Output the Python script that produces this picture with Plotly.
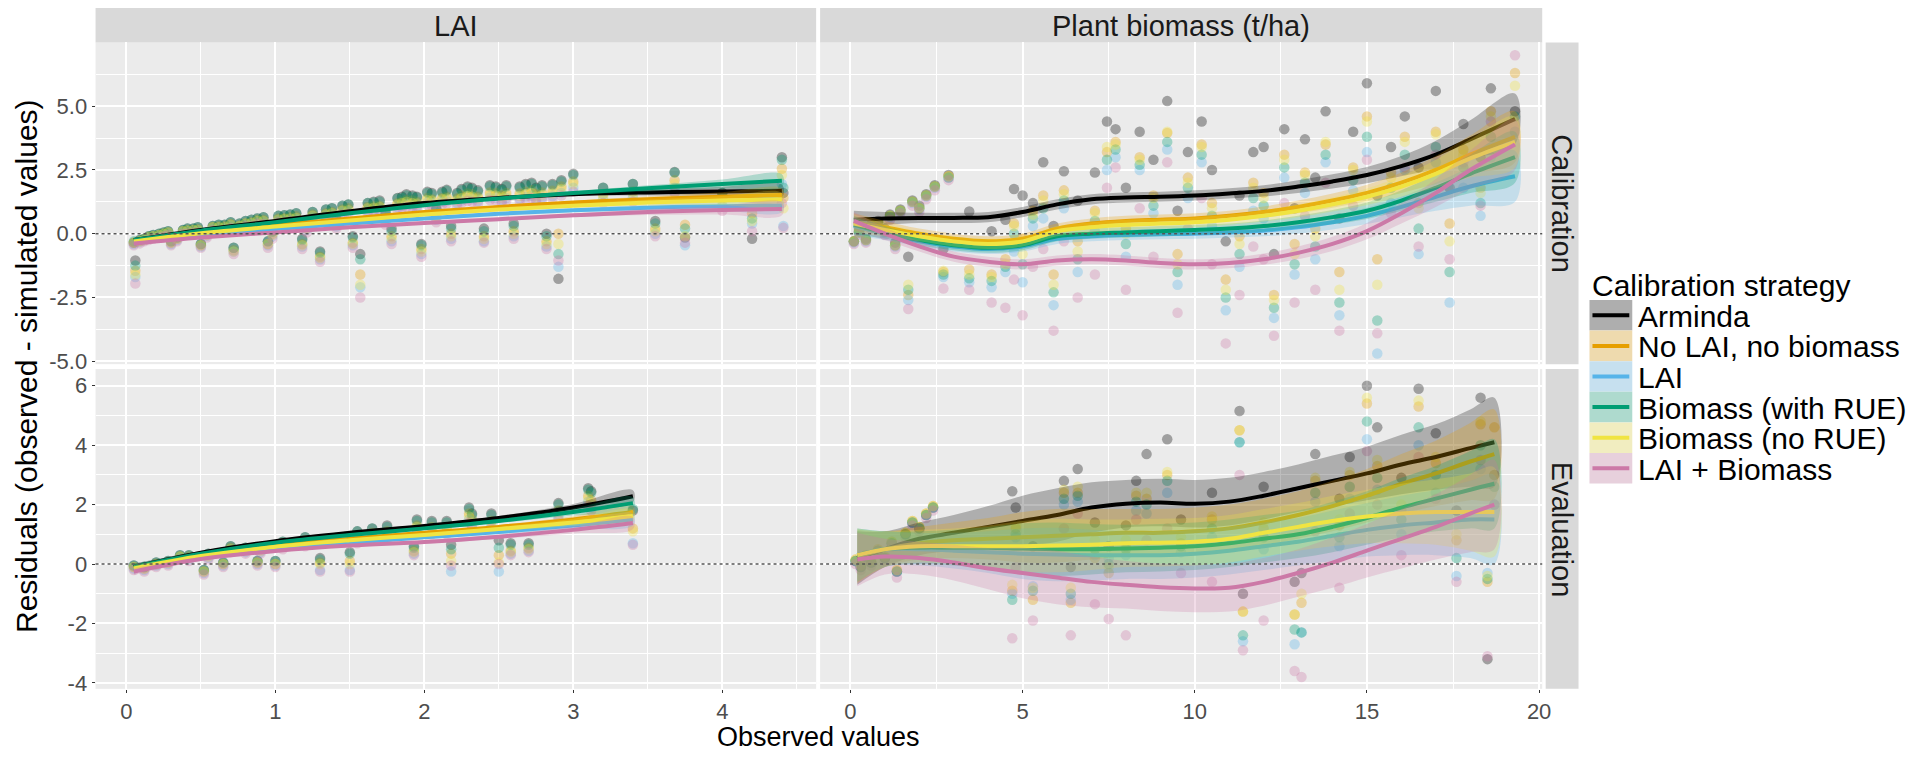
import plotly.graph_objects as go
from plotly.subplots import make_subplots

W, H = 1912, 763

STRATEGIES = ["Arminda", "No LAI, no biomass", "LAI", "Biomass (with RUE)",
              "Biomass (no RUE)", "LAI + Biomass"]
COLORS = ["#000000", "#E69F00", "#56B4E9", "#009E73", "#F0E442", "#CC79A7"]
COLUMN_LABELS = ["LAI", "Plant biomass (t/ha)"]
ROW_LABELS = ["Calibration", "Evaluation"]
X_TITLE = "Observed values"
Y_TITLE = "Residuals (observed - simulated values)"
LEGEND_TITLE = "Calibration strategy"

TOP_TICKS = [-5, -2.5, 0, 2.5, 5]
TOP_TICK_TEXT = ["-5.0", "-2.5", "0.0", "2.5", "5.0"]
BOT_TICKS = [-4, -2, 0, 2, 4, 6]
BOT_TICK_TEXT = ["-4", "-2", "0", "2", "4", "6"]

# ---------------- LAI, calibration: observed points ----------------
LC_X = [0.05, 0.06, 0.12, 0.18, 0.25, 0.30, 0.38, 0.45, 0.50, 0.58,
        0.66, 0.72, 0.80, 0.88, 0.95, 1.02, 1.10, 1.18, 1.25, 1.30,
        1.38, 1.45, 1.52, 1.57, 1.62, 1.70, 1.78, 1.85, 1.92, 1.98,
        2.05, 2.12, 2.18, 2.25, 2.32, 2.40, 2.48, 2.55, 2.60, 2.68,
        2.75, 2.82, 2.90, 2.92, 3.00, 3.20, 3.40, 3.55, 3.68, 3.75,
        4.00, 4.20, 4.40, 4.41,
        0.09, 0.15, 0.22, 0.28, 0.34, 0.41, 0.48, 0.54, 0.62, 0.70,
        0.76, 0.84, 0.92, 0.98, 1.06, 1.14, 1.21, 1.34, 1.41, 1.49,
        1.66, 1.74, 1.82, 1.88, 1.95, 2.02, 2.08, 2.15, 2.22, 2.29,
        2.36, 2.44, 2.52, 2.64, 2.72, 2.79, 2.86]
LC_ARM = [-0.35, -1.05, -0.20, -0.05, 0.05, -0.30, 0.15, 0.20, -0.40, 0.30,
          0.35, -0.55, 0.50, 0.60, -0.30, 0.70, 0.75, -0.20, 0.85, -0.70,
          1.00, 1.10, -0.10, -0.80, 1.20, 1.30, 0.20, 1.45, 1.50, -0.40,
          1.60, 1.65, 0.30, 1.75, 1.80, 0.20, 1.85, 1.90, 0.40, 1.95,
          1.80, 0.00, -1.77, 2.10, 2.35, 1.80, 1.95, 0.50, 2.42, -0.15,
          1.60, -0.20, 3.00, 1.60,
          -0.25, -0.10, 0.00, 0.10, -0.15, 0.20, 0.25, 0.05, 0.35, 0.45,
          0.40, 0.55, 0.65, 0.10, 0.72, 0.80, 0.40, 0.95, 0.60, 1.15,
          1.25, 0.85, 1.40, 1.55, 1.45, 1.65, 1.00, 1.72, 1.60, 1.85,
          1.70, 1.90, 1.75, 1.85, 2.00, 1.90, 1.95]
LC_NOLB = [-0.35, -1.45, -0.20, -0.10, 0.00, -0.35, 0.10, 0.15, -0.45, 0.25,
           0.30, -0.65, 0.40, 0.55, -0.40, 0.60, 0.65, -0.40, 0.75, -0.90,
           0.85, 0.95, -0.35, -1.60, 1.05, 1.10, -0.10, 1.25, 1.30, -0.60,
           1.35, 1.40, 0.00, 1.50, 1.55, -0.10, 1.60, 1.60, 0.10, 1.65,
           1.55, -0.30, 0.00, 1.85, 2.05, 1.55, 1.65, 0.20, 2.10, 0.35,
           1.40, 0.80, 2.55, 1.40,
           -0.28, -0.12, -0.05, 0.05, -0.20, 0.15, 0.18, -0.02, 0.28, 0.38,
           0.32, 0.45, 0.55, 0.00, 0.62, 0.68, 0.25, 0.80, 0.40, 1.00,
           1.08, 0.60, 1.20, 1.32, 1.25, 1.40, 0.70, 1.45, 1.38, 1.58,
           1.45, 1.62, 1.50, 1.58, 1.70, 1.62, 1.68]
LC_LAI = [-0.40, -1.70, -0.25, -0.15, -0.05, -0.40, 0.05, 0.10, -0.50, 0.20,
          0.20, -0.70, 0.35, 0.45, -0.45, 0.50, 0.55, -0.50, 0.65, -1.00,
          0.75, 0.85, -0.45, -2.10, 0.90, 0.95, -0.30, 1.10, 1.10, -0.80,
          1.20, 1.25, -0.20, 1.30, 1.35, -0.30, 1.40, 1.40, -0.10, 1.45,
          1.35, -0.50, -1.30, 1.60, 1.80, 1.35, 1.40, 0.00, 1.80, -0.45,
          1.10, 0.40, 1.95, 0.30,
          -0.32, -0.18, -0.10, 0.00, -0.25, 0.08, 0.12, -0.08, 0.20, 0.30,
          0.25, 0.38, 0.45, -0.10, 0.52, 0.58, 0.15, 0.70, 0.28, 0.88,
          0.92, 0.45, 1.05, 1.15, 1.08, 1.22, 0.55, 1.28, 1.20, 1.38,
          1.28, 1.42, 1.30, 1.38, 1.50, 1.42, 1.48]
LC_BRUE = [-0.30, -1.25, -0.20, -0.05, 0.05, -0.30, 0.15, 0.20, -0.40, 0.30,
           0.35, -0.55, 0.50, 0.60, -0.30, 0.70, 0.75, -0.25, 0.85, -0.75,
           1.00, 1.10, -0.15, -1.00, 1.20, 1.25, 0.10, 1.40, 1.45, -0.45,
           1.55, 1.60, 0.20, 1.70, 1.75, 0.10, 1.80, 1.85, 0.30, 1.90,
           1.75, -0.10, -0.80, 2.05, 2.30, 1.80, 1.95, 0.40, 2.40, 0.20,
           1.60, 0.60, 2.90, 1.80,
           -0.25, -0.10, 0.00, 0.10, -0.15, 0.20, 0.25, 0.05, 0.35, 0.45,
           0.40, 0.55, 0.65, 0.08, 0.72, 0.80, 0.38, 0.95, 0.55, 1.15,
           1.22, 0.80, 1.38, 1.50, 1.42, 1.60, 0.95, 1.68, 1.55, 1.80,
           1.65, 1.85, 1.70, 1.80, 1.95, 1.85, 1.90]
LC_BNORUE = [-0.35, -1.60, -0.25, -0.10, 0.00, -0.35, 0.10, 0.15, -0.45, 0.25,
             0.25, -0.70, 0.40, 0.50, -0.40, 0.55, 0.60, -0.45, 0.70, -0.95,
             0.80, 0.90, -0.40, -2.00, 1.00, 1.05, -0.20, 1.20, 1.20, -0.70,
             1.30, 1.35, -0.10, 1.40, 1.45, -0.20, 1.50, 1.50, 0.00, 1.55,
             1.45, -0.40, -0.40, 1.75, 1.95, 1.45, 1.55, 0.10, 1.95, -0.10,
             1.30, 0.50, 2.30, 1.00,
             -0.30, -0.15, -0.05, 0.05, -0.20, 0.12, 0.15, -0.05, 0.25, 0.35,
             0.30, 0.42, 0.50, -0.05, 0.58, 0.62, 0.20, 0.75, 0.35, 0.92,
             1.02, 0.55, 1.15, 1.25, 1.18, 1.32, 0.65, 1.38, 1.30, 1.48,
             1.38, 1.52, 1.42, 1.48, 1.60, 1.52, 1.58]
LC_LB = [-0.45, -1.95, -0.30, -0.20, -0.10, -0.45, 0.00, 0.05, -0.55, 0.15,
         0.15, -0.80, 0.30, 0.40, -0.55, 0.45, 0.50, -0.60, 0.55, -1.10,
         0.65, 0.75, -0.55, -2.50, 0.80, 0.85, -0.40, 1.00, 1.00, -0.90,
         1.10, 1.15, -0.30, 1.20, 1.25, -0.35, 1.30, 1.30, -0.20, 1.35,
         1.25, -0.60, -1.05, 1.50, 1.65, 1.20, 1.25, -0.10, 1.60, -0.35,
         0.90, 0.10, 1.20, 0.23,
         -0.38, -0.25, -0.15, -0.05, -0.30, 0.02, 0.05, -0.15, 0.12, 0.22,
         0.18, 0.30, 0.38, -0.20, 0.45, 0.50, 0.05, 0.60, 0.20, 0.78,
         0.82, 0.35, 0.95, 1.05, 0.98, 1.12, 0.45, 1.18, 1.10, 1.28,
         1.18, 1.32, 1.22, 1.28, 1.40, 1.32, 1.38]

# ---------------- LAI, evaluation: observed points ----------------
LE_X = [0.05, 0.12, 0.20, 0.28, 0.36, 0.42, 0.52, 0.55, 0.65, 0.70,
        0.80, 0.88, 0.90, 1.00, 1.05, 1.20, 1.30, 1.50, 1.55, 1.65,
        1.75, 1.93, 1.95, 2.05, 2.15, 2.18, 2.30, 2.32, 2.45, 2.50,
        2.58, 2.70, 2.90, 3.10, 3.12, 3.40]
LE_ARM = [-0.05, -0.10, 0.05, 0.10, 0.30, 0.30, -0.20, 0.35, 0.05, 0.60,
          0.55, 0.10, 0.55, 0.10, 0.75, 0.90, 0.20, 0.40, 1.10, 1.20,
          1.30, 0.60, 1.50, 1.45, 1.45, 0.65, 1.90, 1.70, 1.70, 0.80,
          0.70, 0.70, 2.05, 2.55, 2.45, 1.80]
LE_NOLB = [-0.10, -0.15, 0.00, 0.05, 0.25, 0.25, -0.25, 0.30, 0.00, 0.55,
           0.50, 0.05, 0.50, 0.00, 0.70, 0.80, 0.05, 0.10, 0.95, 1.05,
           1.10, 0.45, 1.30, 1.25, 1.25, 0.35, 1.70, 1.50, 1.45, 0.30,
           0.45, 0.55, 1.80, 2.30, 2.15, 1.20]
LE_LAI = [-0.15, -0.20, -0.05, 0.00, 0.20, 0.15, -0.30, 0.20, -0.05, 0.45,
          0.40, 0.00, 0.40, -0.05, 0.60, 0.70, -0.20, -0.20, 0.85, 0.90,
          0.95, 0.35, 1.15, 1.10, 1.05, -0.25, 1.50, 1.30, 1.30, -0.25,
          0.35, 0.45, 1.60, 2.10, 1.90, 0.70]
LE_BRUE = [-0.05, -0.10, 0.05, 0.10, 0.30, 0.30, -0.20, 0.35, 0.05, 0.60,
           0.55, 0.10, 0.55, 0.10, 0.75, 0.90, 0.15, 0.35, 1.10, 1.20,
           1.25, 0.55, 1.45, 1.40, 1.40, 0.50, 1.85, 1.65, 1.65, 0.55,
           0.65, 0.65, 2.00, 2.50, 2.40, 1.85]
LE_BNORUE = [-0.10, -0.15, 0.00, 0.05, 0.25, 0.20, -0.25, 0.25, 0.00, 0.50,
             0.45, 0.05, 0.45, 0.00, 0.65, 0.75, 0.00, 0.00, 0.90, 1.00,
             1.05, 0.40, 1.25, 1.20, 1.20, 0.10, 1.60, 1.40, 1.40, 0.05,
             0.40, 0.50, 1.70, 2.20, 2.05, 1.10]
LE_LB = [-0.20, -0.25, -0.10, -0.05, 0.15, 0.10, -0.35, 0.15, -0.10, 0.40,
         0.35, -0.05, 0.35, -0.10, 0.50, 0.60, -0.25, -0.25, 0.70, 0.80,
         0.85, 0.30, 1.05, 1.00, 1.00, -0.05, 1.40, 1.20, 1.20, 0.00,
         0.30, 0.40, 1.50, 1.95, 1.80, 0.65]

# ---------------- Biomass, calibration: observed points ----------------
BC_X = [0.10, 0.25, 0.45, 0.60, 0.80, 1.00, 1.15, 1.30, 1.45, 1.68,
        1.80, 2.00, 2.20, 2.45, 2.70, 2.85, 3.45, 4.10, 4.50, 4.75,
        5.00, 5.30, 5.60, 5.90, 6.20, 6.60, 7.10, 7.45, 7.70, 8.00,
        8.40, 9.20, 8.80, 9.50, 9.80, 10.20, 10.50, 10.90, 11.30, 11.70,
        12.00, 12.30, 12.60, 12.90, 13.20, 13.50, 13.80, 14.20, 14.60, 15.00,
        15.30, 15.70, 16.10, 16.50, 17.00, 17.40, 17.80, 18.30, 18.60, 19.30]
BC_ARM = [-0.30, 0.10, -0.20, 0.35, 0.50, 0.20, 0.75, -0.35, 0.95, -0.90,
          1.30, 1.10, 1.55, 1.90, -0.60, 2.30, 0.87, 0.10, 0.55, 1.75,
          1.50, 1.20, 2.80, 0.30, 2.45, 1.30, 2.40, 4.40, 4.10, 1.80,
          4.00, 5.20, 2.90, 0.90, 3.20, 4.40, 2.50, -0.30, 1.50, 3.20,
          3.40, -0.80, 4.10, 1.00, 3.70, 2.20, 4.80, 0.60, 4.00, 5.90,
          1.50, 3.40, 4.60, 2.60, 5.60, 1.80, 4.30, 3.00, 5.70, 4.80]
BC_NOLB = [-0.30, 0.05, -0.25, 0.30, 0.45, 0.10, 0.70, -0.45, 0.90, -2.40,
           1.25, 1.00, 1.50, 1.85, -1.50, 2.25, -1.40, -1.60, -1.00, 0.40,
           -0.20, 0.90, 1.50, -1.60, 1.70, -0.30, 0.90, 3.20, 3.60, 0.20,
           3.00, 3.95, 1.50, -0.80, 2.20, 3.50, 1.20, -1.80, -0.10, 2.00,
           1.60, -2.40, 3.10, -0.40, 2.40, 0.20, 3.50, -1.50, 2.60, 4.60,
           -1.00, 2.40, 3.80, 1.20, 4.00, 0.40, 3.30, 1.80, 4.80, 6.30]
BC_LAI = [-0.35, 0.00, -0.30, 0.25, 0.40, 0.05, 0.65, -0.50, 0.85, -2.60,
          1.20, 0.95, 1.45, 1.80, -1.70, 2.20, -1.90, -2.10, -1.50, -0.70,
          -1.90, 0.30, 0.60, -2.80, 1.00, -1.50, 0.10, 2.50, 3.00, -0.90,
          2.50, 3.30, 0.80, -2.00, 1.40, 2.80, 0.30, -3.00, -1.30, 0.90,
          0.60, -3.30, 2.20, -1.60, 1.60, -1.00, 2.80, -3.20, 1.70, 3.20,
          -4.70, 1.20, 2.50, -0.80, 2.80, -2.70, 1.80, 0.70, 3.00, 4.00]
BC_BRUE = [-0.30, 0.05, -0.25, 0.30, 0.45, 0.10, 0.70, -0.45, 0.90, -2.20,
           1.25, 1.00, 1.50, 1.85, -1.60, 2.20, -1.75, -1.85, -1.30, 0.00,
           -1.20, 0.60, 1.00, -2.30, 1.30, -1.00, 0.50, 2.90, 3.30, -0.40,
           2.70, 3.60, 1.10, -1.50, 1.80, 3.10, 0.70, -2.50, -0.80, 1.40,
           1.10, -2.90, 2.60, -1.20, 2.00, -0.50, 3.10, -2.70, 2.10, 3.80,
           -3.40, 1.80, 3.10, 0.20, 3.40, -1.50, 2.60, 1.20, 3.80, 4.60]
BC_BNORUE = [-0.30, 0.05, -0.25, 0.30, 0.45, 0.10, 0.70, -0.45, 0.90, -2.00,
             1.25, 1.00, 1.50, 1.85, -1.45, 2.25, -1.60, -1.70, -1.20, 0.30,
             -0.80, 0.75, 1.30, -2.00, 1.55, -0.70, 0.80, 3.40, 3.50, 0.00,
             2.90, 4.00, 1.40, -1.20, 2.00, 3.40, 1.00, -2.20, -0.40, 1.80,
             1.40, -2.60, 2.90, -0.80, 2.30, -0.10, 3.60, -2.20, 2.50, 4.40,
             -2.00, 2.20, 3.60, 1.00, 3.90, -0.30, 3.10, 1.60, 4.60, 5.80]
BC_LB = [-0.40, -0.05, -0.35, 0.20, 0.30, -0.05, 0.55, -0.60, 0.80, -2.95,
         1.10, 0.85, 1.35, 1.70, -2.15, 2.10, -2.20, -2.70, -2.90, -1.80,
         -3.20, -1.30, -0.60, -3.80, -0.30, -2.50, -1.60, 1.80, 2.60, -2.20,
         1.00, 2.80, -0.90, -3.10, 0.20, 1.40, -1.20, -4.30, -2.40, -0.50,
         -1.00, -4.00, 1.20, -2.70, 0.70, -2.20, 2.00, -3.80, 1.10, 2.90,
         -3.90, 0.80, 2.60, -0.50, 3.10, -1.00, 2.80, 1.10, 4.40, 7.00]

# ---------------- Biomass, evaluation: observed points ----------------
BE_X = [0.15, 0.30, 0.45, 0.60, 0.80, 1.00, 1.20, 1.35, 1.60, 1.80,
        2.00, 2.20, 2.40, 4.70, 4.80, 5.30, 6.20, 6.40, 6.60, 7.10,
        7.50, 8.00, 8.30, 8.60, 9.20, 9.60, 10.50, 11.30, 11.40, 12.00,
        12.90, 13.10, 13.50, 14.20, 14.50, 15.00, 15.30, 16.00, 16.50, 17.00,
        17.60, 18.30, 18.50, 18.70]
BE_ARM = [0.10, -0.10, 0.25, 0.05, 0.45, 0.20, 0.70, -0.25, 1.00, 1.40,
          1.20, 1.65, 1.90, 2.45, 1.90, 0.60, 2.80, -0.10, 3.20, 1.40,
          0.60, 1.30, 2.80, 3.70, 4.20, 1.50, 2.40, 5.15, -1.00, 2.60,
          -0.60, -0.30, 3.70, 2.20, 3.60, 6.00, 4.60, 2.90, 5.90, 4.40,
          1.80, 5.60, -3.20, 3.00]
BE_NOLB = [0.15, -0.05, 0.30, 0.10, 0.50, 0.25, 0.75, -0.20, 1.05, 1.45,
           1.25, 1.70, 1.95, -0.90, 1.20, -1.20, 2.40, -1.30, 2.40, 0.20,
           -0.30, 0.60, 2.30, 2.20, 3.00, 0.70, 1.50, 4.50, -1.60, 1.20,
           -1.70, -1.30, 2.80, 1.30, 3.00, 5.40, 3.30, 1.80, 5.30, 3.40,
           0.80, 4.70, -0.60, 4.60]
BE_LAI = [0.10, -0.10, 0.25, 0.05, 0.45, 0.20, 0.70, -0.25, 1.00, 1.40,
          1.20, 1.65, 1.90, -1.00, 0.90, -0.75, 2.00, -1.20, 2.10, 0.30,
          0.20, 0.30, 1.80, 1.70, 2.40, 0.40, 0.90, 4.10, -2.60, 0.50,
          -2.70, -2.30, 2.10, 0.60, 2.20, 4.20, 2.50, 1.00, 4.00, 2.40,
          -0.40, 3.20, -0.30, 2.00]
BE_BRUE = [0.10, -0.10, 0.25, 0.05, 0.45, 0.20, 0.70, -0.25, 1.00, 1.40,
           1.20, 1.65, 1.90, -1.20, 1.00, -0.90, 2.20, -1.00, 2.30, 0.50,
           0.00, 0.50, 2.10, 2.00, 2.80, 0.60, 1.20, 4.10, -2.40, 0.90,
           -2.20, -2.30, 2.40, 0.90, 2.60, 4.80, 2.90, 1.50, 4.60, 3.00,
           0.20, 4.00, -0.50, 2.60]
BE_BNORUE = [0.15, -0.05, 0.30, 0.10, 0.50, 0.25, 0.75, -0.20, 1.05, 1.45,
             1.25, 1.70, 1.95, -0.70, 1.30, -0.80, 2.50, -0.80, 2.60, 0.80,
             -0.10, 0.80, 2.40, 2.40, 3.10, 0.90, 1.60, 4.50, -1.60, 1.40,
             -1.70, -1.00, 2.90, 1.50, 3.10, 5.60, 3.50, 2.00, 5.50, 3.60,
             1.00, 4.80, -0.40, 3.00]
BE_LB = [0.00, -0.20, 0.15, -0.05, 0.35, 0.10, 0.60, -0.45, 0.90, 1.30,
         1.10, 1.55, 1.80, -2.50, -0.10, -1.90, 1.20, -2.40, 1.70, -1.35,
         -1.85, -2.40, 1.50, 0.80, 1.20, -0.30, -0.60, 3.00, -2.90, -1.90,
         -3.60, -3.80, 1.10, -0.80, 1.70, 3.80, 2.00, 0.30, 3.60, 2.20,
         -0.60, 3.50, -3.10, 2.00]

# ---------------- smoothed fits (loess) and their standard errors ----------------
LCF_X = [0.05, 0.5, 1.0, 1.5, 2.0, 2.5, 3.0, 3.5, 4.0, 4.4]
LCF_ARM = [-0.25, 0.15, 0.50, 0.88, 1.20, 1.40, 1.55, 1.62, 1.66, 1.68]
LCF_NOLB = [-0.28, 0.05, 0.33, 0.60, 0.85, 1.05, 1.22, 1.35, 1.45, 1.52]
LCF_LAI = [-0.32, -0.05, 0.18, 0.40, 0.60, 0.78, 0.92, 1.02, 1.08, 1.10]
LCF_BRUE = [-0.25, 0.12, 0.45, 0.80, 1.12, 1.38, 1.60, 1.78, 1.95, 2.08]
LCF_BNORUE = [-0.30, 0.02, 0.28, 0.52, 0.75, 0.95, 1.10, 1.22, 1.30, 1.35]
LCF_LB = [-0.38, -0.15, 0.05, 0.25, 0.42, 0.57, 0.72, 0.85, 0.93, 0.97]
LCF_SE = [0.06, 0.04, 0.04, 0.04, 0.04, 0.05, 0.07, 0.12, 0.18, 0.25]

LEF_X = [0.05, 0.5, 1.0, 1.5, 2.0, 2.5, 3.0, 3.4]
LEF_ARM = [-0.10, 0.38, 0.77, 1.05, 1.28, 1.55, 1.90, 2.28]
LEF_NOLB = [-0.15, 0.30, 0.62, 0.85, 1.05, 1.25, 1.50, 1.75]
LEF_LAI = [-0.20, 0.22, 0.50, 0.72, 0.90, 1.08, 1.30, 1.50]
LEF_BRUE = [-0.10, 0.35, 0.72, 0.98, 1.20, 1.45, 1.75, 2.05]
LEF_BNORUE = [-0.15, 0.27, 0.58, 0.80, 0.98, 1.18, 1.40, 1.62]
LEF_LB = [-0.25, 0.17, 0.44, 0.62, 0.74, 0.92, 1.15, 1.38]
LEF_SE = [0.12, 0.06, 0.05, 0.05, 0.06, 0.07, 0.12, 0.20]

BCF_X = [0.1, 1, 2, 3, 4, 5, 6, 7, 8, 9, 10, 11, 12, 13, 14, 15, 16, 17, 18, 19.3]
BCF_ARM = [0.55, 0.60, 0.62, 0.62, 0.65, 0.85, 1.15, 1.35, 1.42, 1.45,
           1.50, 1.58, 1.68, 1.85, 2.05, 2.30, 2.65, 3.10, 3.70, 4.50]
BCF_NOLB = [0.45, 0.25, 0.00, -0.20, -0.30, -0.20, 0.20, 0.40, 0.50, 0.55,
            0.60, 0.70, 0.85, 1.05, 1.30, 1.60, 2.00, 2.50, 3.10, 3.80]
BCF_LAI = [0.30, 0.00, -0.30, -0.50, -0.60, -0.50, -0.20, -0.10, -0.05, -0.02,
           0.00, 0.05, 0.12, 0.25, 0.45, 0.70, 1.05, 1.45, 1.85, 2.25]
BCF_BRUE = [0.35, 0.05, -0.25, -0.45, -0.55, -0.45, -0.10, 0.00, 0.05, 0.10,
            0.15, 0.20, 0.30, 0.45, 0.65, 0.90, 1.30, 1.80, 2.35, 3.00]
BCF_BNORUE = [0.40, 0.15, -0.10, -0.30, -0.40, -0.30, 0.10, 0.25, 0.35, 0.40,
              0.45, 0.55, 0.70, 0.90, 1.15, 1.45, 1.85, 2.35, 2.95, 3.60]
BCF_LB = [0.50, 0.00, -0.50, -0.90, -1.10, -1.20, -1.05, -1.00, -1.05, -1.15,
          -1.20, -1.15, -1.00, -0.75, -0.40, 0.10, 0.80, 1.60, 2.50, 3.50]
BCF_SE = [0.35, 0.25, 0.20, 0.20, 0.20, 0.20, 0.20, 0.20, 0.20, 0.20,
          0.20, 0.20, 0.22, 0.25, 0.28, 0.32, 0.40, 0.55, 0.75, 1.00]

BEF_X = [0.2, 1, 2, 3, 4, 5, 6, 7, 8, 9, 10, 11, 12, 13, 14, 15, 16, 17, 18, 18.7]
BEF_ARM = [0.20, 0.50, 0.85, 1.05, 1.25, 1.45, 1.65, 1.90, 2.03, 2.07,
           2.03, 2.10, 2.30, 2.55, 2.80, 3.05, 3.35, 3.60, 3.90, 4.10]
BEF_NOLB = [0.25, 0.50, 0.70, 0.80, 0.85, 0.90, 0.95, 1.00, 1.05, 1.05,
            1.10, 1.20, 1.40, 1.65, 1.95, 2.30, 2.70, 3.05, 3.45, 3.70]
BEF_LAI = [0.30, 0.50, 0.50, 0.45, 0.40, 0.35, 0.32, 0.30, 0.30, 0.30,
           0.35, 0.45, 0.60, 0.75, 0.95, 1.15, 1.30, 1.40, 1.50, 1.50]
BEF_BRUE = [0.30, 0.50, 0.55, 0.55, 0.55, 0.52, 0.50, 0.50, 0.52, 0.55,
            0.60, 0.70, 0.85, 1.00, 1.25, 1.55, 1.90, 2.20, 2.50, 2.70]
BEF_BNORUE = [0.30, 0.50, 0.60, 0.60, 0.60, 0.60, 0.62, 0.65, 0.70, 0.72,
              0.75, 0.85, 1.05, 1.25, 1.45, 1.60, 1.70, 1.75, 1.75, 1.75]
BEF_LB = [0.15, 0.25, 0.20, 0.05, -0.15, -0.30, -0.45, -0.60, -0.70, -0.78,
          -0.82, -0.80, -0.60, -0.30, 0.05, 0.45, 0.85, 1.25, 1.70, 2.00]
BEF_SE = [0.90, 0.60, 0.55, 0.60, 0.70, 0.85, 0.90, 0.85, 0.80, 0.80,
          0.80, 0.80, 0.80, 0.80, 0.85, 0.90, 1.00, 1.10, 1.30, 1.50]

# ---------------------------------------------------------------------------
FONT = "Liberation Sans, Arial, Helvetica, sans-serif"


def rgba(h, a):
    h = h.lstrip("#")
    return "rgba(%d,%d,%d,%.3f)" % (int(h[0:2], 16), int(h[2:4], 16), int(h[4:6], 16), a)


panels = [
    (1, 1, LC_X, [LC_ARM, LC_NOLB, LC_LAI, LC_BRUE, LC_BNORUE, LC_LB],
     LCF_X, [LCF_ARM, LCF_NOLB, LCF_LAI, LCF_BRUE, LCF_BNORUE, LCF_LB], LCF_SE),
    (1, 2, BC_X, [BC_ARM, BC_NOLB, BC_LAI, BC_BRUE, BC_BNORUE, BC_LB],
     BCF_X, [BCF_ARM, BCF_NOLB, BCF_LAI, BCF_BRUE, BCF_BNORUE, BCF_LB], BCF_SE),
    (2, 1, LE_X, [LE_ARM, LE_NOLB, LE_LAI, LE_BRUE, LE_BNORUE, LE_LB],
     LEF_X, [LEF_ARM, LEF_NOLB, LEF_LAI, LEF_BRUE, LEF_BNORUE, LEF_LB], LEF_SE),
    (2, 2, BE_X, [BE_ARM, BE_NOLB, BE_LAI, BE_BRUE, BE_BNORUE, BE_LB],
     BEF_X, [BEF_ARM, BEF_NOLB, BEF_LAI, BEF_BRUE, BEF_BNORUE, BEF_LB], BEF_SE),
]

fig = make_subplots(rows=2, cols=2, shared_xaxes=True, shared_yaxes=True,
                    horizontal_spacing=0.002, vertical_spacing=0.006)

for (r, c, px, pys, fx, fys, se) in panels:
    # points layer
    for i, ys in enumerate(pys):
        fig.add_trace(go.Scatter(
            x=px, y=ys, mode="markers", showlegend=False, hoverinfo="skip",
            marker=dict(size=10.5, color=rgba(COLORS[i], 0.32), line=dict(width=0))),
            row=r, col=c)
    # smooth layer: ribbon + line per strategy
    for i, fy in enumerate(fys):
        upper = [f + s for f, s in zip(fy, se)]
        lower = [f - s for f, s in zip(fy, se)]
        fig.add_trace(go.Scatter(
            x=list(fx) + list(fx)[::-1], y=upper + lower[::-1],
            mode="lines", fill="toself", fillcolor=rgba(COLORS[i], 0.26),
            line=dict(width=0, shape="spline", smoothing=1.0),
            showlegend=False, hoverinfo="skip"), row=r, col=c)
        fig.add_trace(go.Scatter(
            x=fx, y=fy, mode="lines", name=STRATEGIES[i], showlegend=False,
            line=dict(color=COLORS[i], width=4, shape="spline", smoothing=1.0),
            hoverinfo="skip"), row=r, col=c)

# ----- geometry (pixels in a 1912 x 763 canvas) -----
LEFT_X = (96, 820)
RIGHT_X = (824, 1549.5)
TOP_Y = (43, 369)
BOT_Y = (374, 698)


def px_x(a):
    return a / W


def px_y(a):
    return 1 - a / H


axis_common = dict(showgrid=True, gridcolor="white", gridwidth=1.6, zeroline=False,
                   showline=False, ticks="outside", ticklen=3, tickwidth=1.3,
                   tickcolor="#333333",
                   tickfont=dict(family=FONT, size=22, color="#4D4D4D"))

x_left = dict(axis_common, range=[-0.207, 4.63], tickmode="linear", tick0=0, dtick=1,
              minor=dict(dtick=0.5, tick0=0, showgrid=True, gridcolor="white",
                         gridwidth=0.7, ticks=""),
              domain=[px_x(LEFT_X[0]), px_x(LEFT_X[1])])
x_right = dict(axis_common, range=[-0.88, 20.09], tickmode="linear", tick0=0, dtick=5,
               minor=dict(dtick=2.5, tick0=0, showgrid=True, gridcolor="white",
                          gridwidth=0.7, ticks=""),
               domain=[px_x(RIGHT_X[0]), px_x(RIGHT_X[1])])
y_top = dict(axis_common, range=[-5.115, 7.5], tickmode="array", tickvals=TOP_TICKS,
             ticktext=TOP_TICK_TEXT,
             minor=dict(tickvals=[-3.75, -1.25, 1.25, 3.75, 6.25], showgrid=True,
                        gridcolor="white", gridwidth=0.7, ticks=""),
             domain=[px_y(TOP_Y[1]), px_y(TOP_Y[0])])
y_bot = dict(axis_common, range=[-4.2, 6.56], tickmode="array", tickvals=BOT_TICKS,
             ticktext=BOT_TICK_TEXT,
             minor=dict(tickvals=[-3, -1, 1, 3, 5], showgrid=True,
                        gridcolor="white", gridwidth=0.7, ticks=""),
             domain=[px_y(BOT_Y[1]), px_y(BOT_Y[0])])

fig.update_layout(
    xaxis=dict(x_left, showticklabels=False, ticks=""),
    xaxis2=dict(x_right, showticklabels=False, ticks=""),
    xaxis3=x_left,
    xaxis4=x_right,
    yaxis=y_top,
    yaxis2=dict(y_top, showticklabels=False, ticks=""),
    yaxis3=y_bot,
    yaxis4=dict(y_bot, showticklabels=False, ticks=""),
)

shapes = []
annotations = []

# dotted zero reference lines
for xa, ya in [("x", "y"), ("x2", "y2"), ("x3", "y3"), ("x4", "y4")]:
    shapes.append(dict(type="line", xref=xa + " domain", yref=ya, x0=0, x1=1, y0=0, y1=0,
                       line=dict(color="#555555", width=1.5, dash="dot"), layer="above"))

STRIP_FILL = "#D9D9D9"
# column strips
for (x0, x1), lab in zip([LEFT_X, RIGHT_X], COLUMN_LABELS):
    shapes.append(dict(type="rect", xref="paper", yref="paper", x0=px_x(x0), x1=px_x(x1),
                       y0=px_y(43), y1=px_y(8), fillcolor=STRIP_FILL, line=dict(width=0),
                       layer="below"))
    annotations.append(dict(text=lab, xref="paper", yref="paper", x=px_x((x0 + x1) / 2),
                            y=px_y(26), showarrow=False, xanchor="center", yanchor="middle",
                            font=dict(family=FONT, size=29, color="#1A1A1A")))
# row strips
for (y0, y1), lab in zip([TOP_Y, BOT_Y], ROW_LABELS):
    shapes.append(dict(type="rect", xref="paper", yref="paper", x0=px_x(1553), x1=px_x(1586),
                       y0=px_y(y1), y1=px_y(y0), fillcolor=STRIP_FILL, line=dict(width=0),
                       layer="below"))
    annotations.append(dict(text=lab, xref="paper", yref="paper", x=px_x(1569.5),
                            y=px_y((y0 + y1) / 2), showarrow=False, textangle=90,
                            xanchor="center", yanchor="middle",
                            font=dict(family=FONT, size=29, color="#1A1A1A")))

# axis titles
annotations.append(dict(text=X_TITLE, xref="paper", yref="paper", x=px_x(822), y=0,
                        showarrow=False, xanchor="center", yanchor="bottom",
                        borderpad=0,
                        font=dict(family=FONT, size=27, color="black")))
annotations.append(dict(text=Y_TITLE, xref="paper", yref="paper", x=px_x(26), y=px_y(371),
                        showarrow=False, textangle=-90, xanchor="center", yanchor="middle",
                        font=dict(family=FONT, size=30, color="black")))

# legend (drawn as in ggplot: filled key with line)
annotations.append(dict(text=LEGEND_TITLE, xref="paper", yref="paper", x=px_x(1598),
                        y=px_y(289), showarrow=False, xanchor="left", yanchor="middle",
                        font=dict(family=FONT, size=30, color="black")))
KEY_TOP = 304
KEY_H = 31
for i, (name, col) in enumerate(zip(STRATEGIES, COLORS)):
    t = KEY_TOP + i * KEY_H
    cy = t + KEY_H / 2
    shapes.append(dict(type="rect", xref="paper", yref="paper", x0=px_x(1597), x1=px_x(1640),
                       y0=px_y(t + KEY_H), y1=px_y(t), fillcolor="#F2F2F2",
                       line=dict(width=0)))
    shapes.append(dict(type="rect", xref="paper", yref="paper", x0=px_x(1597), x1=px_x(1640),
                       y0=px_y(t + KEY_H), y1=px_y(t), fillcolor=rgba(col, 0.28),
                       line=dict(width=0)))
    shapes.append(dict(type="line", xref="paper", yref="paper", x0=px_x(1600), x1=px_x(1637),
                       y0=px_y(cy), y1=px_y(cy), line=dict(color=col, width=4)))
    annotations.append(dict(text=name, xref="paper", yref="paper", x=px_x(1644),
                            y=px_y(cy + 1), showarrow=False, xanchor="left",
                            yanchor="middle",
                            font=dict(family=FONT, size=30, color="black")))

fig.update_layout(
    width=W, height=H, autosize=False,
    margin=dict(l=0, r=0, t=0, b=0),
    paper_bgcolor="white", plot_bgcolor="#EBEBEB",
    showlegend=False,
    font=dict(family=FONT, size=24, color="black"),
    shapes=shapes, annotations=annotations,
)

fig.write_html("out.html", config={"displayModeBar": False},
               post_script="document.body.style.margin='0';")
